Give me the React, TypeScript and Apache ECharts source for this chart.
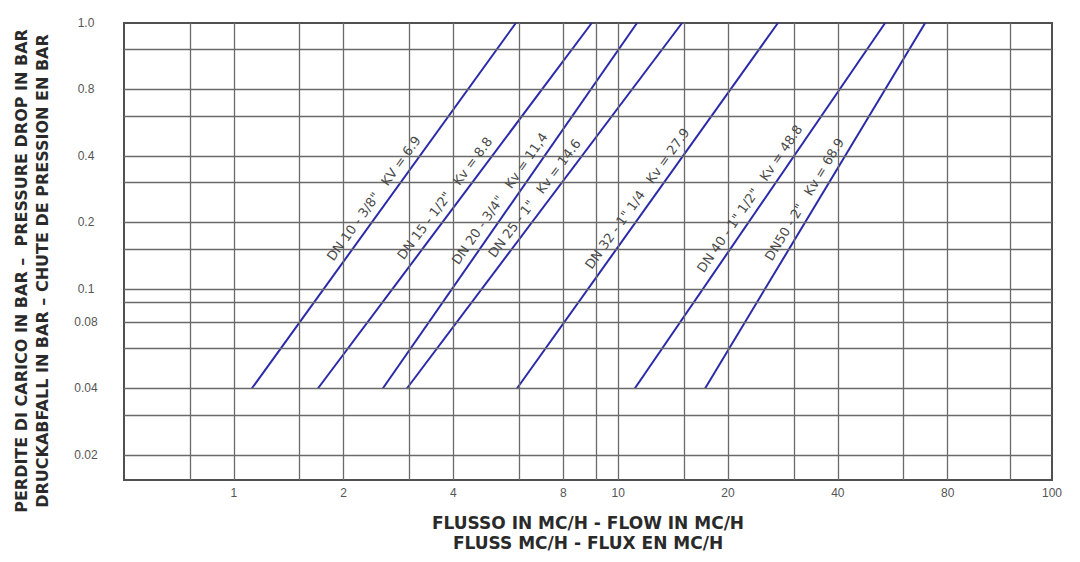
import React, { useEffect, useRef } from "react";
import * as echarts from "echarts";

// ---- tick labels (axis values) ----
const xTickValues = [1, 2, 4, 8, 10, 20, 40, 80, 100];
const xTickLabels = ["1", "2", "4", "8", "10", "20", "40", "80", "100"];
const yTickValues = [0.02, 0.04, 0.08, 0.1, 0.2, 0.4, 0.8, 1.0];
const yTickLabels = ["0.02", "0.04", "0.08", "0.1", "0.2", "0.4", "0.8", "1.0"];

// ---- knots of the chart's own non-uniform logarithmic scales ----
const xScaleValues = [0.5, 1, 2, 4, 8, 10, 20, 40, 80, 100];
const xScaleSteps = [0, 1, 2, 3, 4, 4.5, 5.5, 6.5, 7.5, 8.45];
const yScaleValues = [0.0154, 0.02, 0.04, 0.08, 0.1, 0.2, 0.4, 0.8, 1.0];
const yScaleSteps = [-0.377, 0, 1, 2, 2.5, 3.5, 4.5, 5.5, 6.5];
const minorFraction = 0.6;

// ---- series ----
const seriesNames = [
  'DN 10 - 3/8"   KV = 6.9',
  'DN 15 - 1/2"   Kv = 8.8',
  'DN 20 - 3/4"   Kv = 11,4',
  'DN 25 - 1"   Kv = 14.6',
  'DN 32 - 1" 1/4   Kv = 27.9',
  'DN 40 - 1" 1/2"   Kv = 48.8',
  'DN50 - 2"   Kv = 68.9',
];
const lowDrop = 0.04;
const highDrop = 1.0;
const flowAtLowDrop = [1.12, 1.7, 2.56, 2.98, 5.97, 11.1, 17.3];
const flowAtHighDrop = [5.93, 8.98, 11.26, 14.96, 27.4, 53.9, 69.4];

function makeScale(vals: number[], steps: number[]) {
  return (v: number) => {
    let i = 0;
    while (i < vals.length - 2 && v > vals[i + 1]) i++;
    const t = Math.log(v / vals[i]) / Math.log(vals[i + 1] / vals[i]);
    return steps[i] + t * (steps[i + 1] - steps[i]);
  };
}
const sx = makeScale(xScaleValues, xScaleSteps);
const sy = makeScale(yScaleValues, yScaleSteps);

function labelFor(values: number[], labels: string[], scale: (v: number) => number) {
  return (val: number) => {
    const idx = values.findIndex((t) => Math.abs(scale(t) - val) < 1e-6);
    return idx >= 0 ? labels[idx] : "";
  };
}

export default function App() {
  const ref = useRef<HTMLDivElement>(null);
  useEffect(() => {
    if (!ref.current) return;
    const chart = echarts.init(ref.current, undefined, { renderer: "svg" });

    const xMin = xScaleSteps[0];
    const xMax = xScaleSteps[xScaleSteps.length - 1];
    const yMin = yScaleSteps[0];
    const yMax = yScaleSteps[yScaleSteps.length - 1];

    const xGrid: number[] = [];
    for (let i = 0; i < xScaleSteps.length - 1; i++) {
      if (i > 0) xGrid.push(xScaleSteps[i]);
      xGrid.push(xScaleSteps[i] + minorFraction * (xScaleSteps[i + 1] - xScaleSteps[i]));
    }
    const yGrid: number[] = [];
    for (let i = 1; i < yScaleSteps.length - 1; i++) {
      yGrid.push(yScaleSteps[i]);
      yGrid.push(yScaleSteps[i] + minorFraction * (yScaleSteps[i + 1] - yScaleSteps[i]));
    }

    const gridLine = { color: "#6a6a6a", width: 1.3, type: "solid" };

    const lineSeries = seriesNames.map((name, i) => {
      const p0 = [sx(flowAtLowDrop[i]), sy(lowDrop)];
      const p1 = [sx(flowAtHighDrop[i]), sy(highDrop)];
      return {
        type: "line",
        name,
        z: 3,
        symbol: "none",
        silent: true,
        lineStyle: { color: "#2a2aaa", width: 2 },
        data: [p0, p1],
        markLine: {
          silent: true,
          symbol: "none",
          lineStyle: { color: "rgba(0,0,0,0)", width: 1 },
          label: {
            show: true,
            position: "insideMiddleTop",
            formatter: name,
            color: "#4a4a4a",
            fontSize: 13,
            fontFamily: "DejaVu Sans",
            distance: 6,
          },
          data: [[{ coord: p0 }, { coord: p1 }]],
        },
      };
    });

    chart.setOption({
      animation: false,
      grid: {
        left: 124,
        right: 28,
        top: 23,
        bottom: 82,
        show: true,
        borderColor: "#505050",
        borderWidth: 2,
        backgroundColor: "transparent",
      },
      xAxis: {
        type: "value",
        min: xMin,
        max: xMax,
        splitLine: { show: false },
        axisLine: { show: false },
        axisTick: { show: false },
        axisLabel: {
          customValues: xTickValues.map(sx),
          formatter: labelFor(xTickValues, xTickLabels, sx),
          color: "#555",
          fontSize: 12,
          fontFamily: "Liberation Sans",
          margin: 7,
        },
      },
      yAxis: {
        type: "value",
        min: yMin,
        max: yMax,
        splitLine: { show: false },
        axisLine: { show: false },
        axisTick: { show: false },
        axisLabel: {
          customValues: yTickValues.map(sy),
          formatter: labelFor(yTickValues, yTickLabels, sy),
          color: "#555",
          fontSize: 12,
          fontFamily: "Liberation Sans",
          align: "center",
          margin: 38,
        },
      },
      graphic: [
        {
          type: "text",
          x: 32,
          y: 271,
          rotation: Math.PI / 2,
          style: {
            text: "PERDITE DI CARICO IN BAR –  PRESSURE DROP IN BAR\nDRUCKABFALL IN BAR – CHUTE DE PRESSION EN BAR",
            font: "bold 16px 'DejaVu Sans'",
            fill: "#2a2a2a",
            textAlign: "center",
            textVerticalAlign: "middle",
            lineHeight: 21,
          },
        },
        {
          type: "text",
          x: 588,
          y: 533,
          style: {
            text: "FLUSSO IN MC/H - FLOW IN MC/H\nFLUSS MC/H - FLUX EN MC/H",
            font: "bold 17px 'DejaVu Sans'",
            fill: "#2a2a2a",
            textAlign: "center",
            textVerticalAlign: "middle",
            lineHeight: 20,
          },
        },
      ],
      series: [
        {
          type: "line",
          name: "grid",
          z: 1,
          data: [],
          silent: true,
          markLine: {
            silent: true,
            symbol: "none",
            lineStyle: gridLine,
            label: { show: false },
            data: [
              ...xGrid.map((u) => ({ xAxis: u })),
              ...yGrid.map((v) => ({ yAxis: v })),
            ],
          },
        },
        ...lineSeries,
      ],
    });
    return () => chart.dispose();
  }, []);
  return (
    <div
      ref={ref}
      style={{ position: "fixed", left: 0, top: 0, width: 1080, height: 562, background: "#fff" }}
    />
  );
}
